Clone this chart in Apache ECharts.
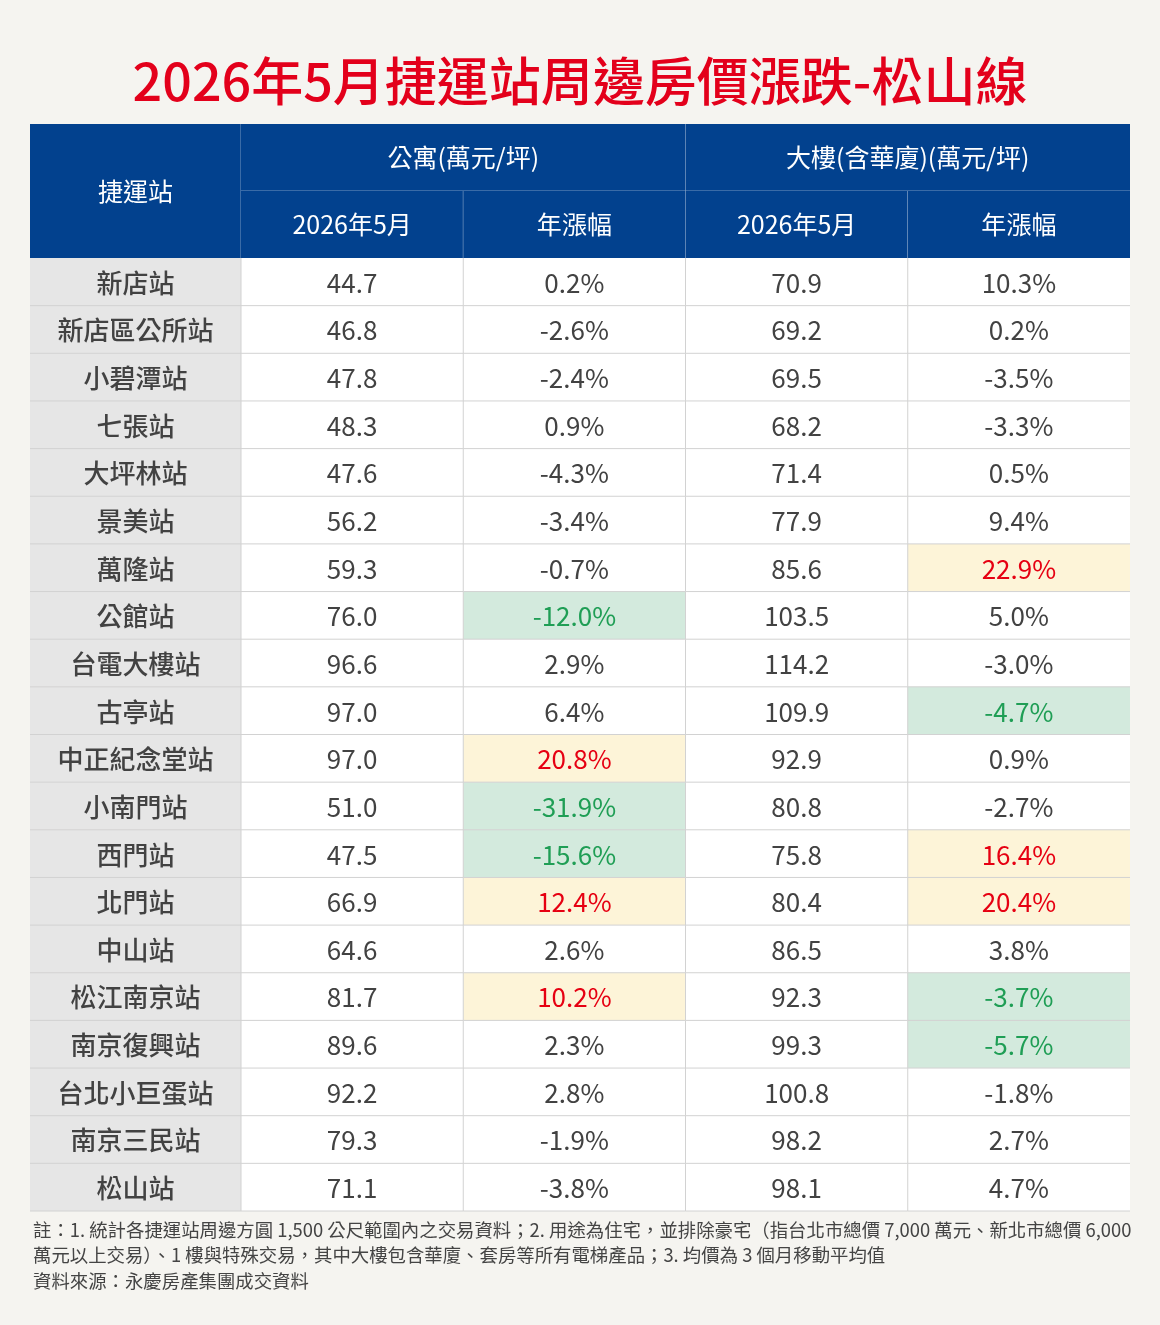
<!DOCTYPE html>
<html>
<head>
<meta charset="utf-8">
<script src="https://cdn.jsdelivr.net/npm/echarts@6/dist/echarts.min.js"></script>
<style>
  html, body { margin: 0; padding: 0; background: #f5f4f0; }
  #main { width: 1160px; height: 1325px; }
</style>
</head>
<body>
<div id="main"></div>
<script>
// table data
const stations = ['新店站', '新店區公所站', '小碧潭站', '七張站', '大坪林站', '景美站', '萬隆站', '公館站', '台電大樓站', '古亭站',
  '中正紀念堂站', '小南門站', '西門站', '北門站', '中山站', '松江南京站', '南京復興站', '台北小巨蛋站', '南京三民站', '松山站']
const aptPrice = [44.7, 46.8, 47.8, 48.3, 47.6, 56.2, 59.3, 76.0, 96.6, 97.0, 97.0, 51.0, 47.5, 66.9, 64.6, 81.7, 89.6, 92.2, 79.3, 71.1]
const aptChange = [0.2, -2.6, -2.4, 0.9, -4.3, -3.4, -0.7, -12.0, 2.9, 6.4, 20.8, -31.9, -15.6, 12.4, 2.6, 10.2, 2.3, 2.8, -1.9, -3.8]
const bldPrice = [70.9, 69.2, 69.5, 68.2, 71.4, 77.9, 85.6, 103.5, 114.2, 109.9, 92.9, 80.8, 75.8, 80.4, 86.5, 92.3, 99.3, 100.8, 98.2, 98.1]
const bldChange = [10.3, 0.2, -3.5, -3.3, 0.5, 9.4, 22.9, 5.0, -3.0, -4.7, 0.9, -2.7, 16.4, 20.4, 3.8, -3.7, -5.7, -1.8, 2.7, 4.7]
// highlighted cells: 'up' = yellow/red, 'down' = green
const aptMark = ['', '', '', '', '', '', '', 'down', '', '', 'up', 'down', 'down', 'up', '', 'up', '', '', '', '']
const bldMark = ['', '', '', '', '', '', 'up', '', '', 'down', '', '', 'up', 'up', '', 'down', 'down', '', '', '']

const valueColumns = ['aptPrice', 'aptChange', 'bldPrice', 'bldChange']
const headerRows = ['group', 'sub']
// header cells: [col, row, colspan, rowspan, text]
const stationHeader = [[0, 0, 1, 2, '捷運站']]
const valueHeader = [
  [0, 0, 2, 1, '公寓(萬元/坪)'],
  [2, 0, 2, 1, '大樓(含華廈)(萬元/坪)'],
  [0, 1, 1, 1, '2026年5月'],
  [1, 1, 1, 1, '年漲幅'],
  [2, 1, 1, 1, '2026年5月'],
  [3, 1, 1, 1, '年漲幅'],
]
const title = '2026年5月捷運站周邊房價漲跌-松山線'
const notes = [
  '註：1. 統計各捷運站周邊方圓 1,500 公尺範圍內之交易資料；2. 用途為住宅，並排除豪宅（指台北市總價 7,000 萬元、新北市總價 6,000',
  '萬元以上交易）、1 樓與特殊交易，其中大樓包含華廈、套房等所有電梯產品；3. 均價為 3 個月移動平均值',
  '資料來源：永慶房產集團成交資料',
]

const FONT = '"Noto Sans CJK TC", "Noto Sans", sans-serif'
const BLUE = '#02418e'
const TEXT = '#424242'
const LINE = '#d2d2d2'

// build body cells
const stationCells = stations.map((s, r) => ({ col: 0, row: r, text: s, mark: 'station', last: false }))
const valueCells = []
stations.forEach((s, r) => {
  valueCells.push({ col: 0, row: r, text: aptPrice[r].toFixed(1), mark: '' })
  valueCells.push({ col: 1, row: r, text: aptChange[r].toFixed(1) + '%', mark: aptMark[r] })
  valueCells.push({ col: 2, row: r, text: bldPrice[r].toFixed(1), mark: '' })
  valueCells.push({ col: 3, row: r, text: bldChange[r].toFixed(1) + '%', mark: bldMark[r], last: true })
})

function cellRect(api, col, row, cs, rs) {
  const c = api.coord([col, row])
  const sz = api.size([1, 1])
  return { x: c[0] - sz[0] / 2, y: c[1] - sz[1] / 2, width: sz[0] * cs, height: sz[1] * rs }
}

function renderBody(cells, layer) {
  return function (params, api) {
    const cell = cells[params.dataIndex]
    const r = cellRect(api, cell.col, cell.row, 1, 1)
    let fill = '#ffffff'
    let color = TEXT
    let weight = 'normal'
    if (cell.mark === 'station') { fill = '#e6e6e6'; weight = 500 }
    if (cell.mark === 'up') { fill = '#fdf4d8'; color = '#e60012' }
    if (cell.mark === 'down') { fill = '#d3eadd'; color = '#1f9e55' }
    if (layer === 'bg') {
      return { type: 'rect', shape: r, style: { fill: fill } }
    }
    const children = [
      {
        type: 'line',
        shape: { x1: r.x, y1: r.y + r.height, x2: r.x + r.width, y2: r.y + r.height },
        style: { stroke: LINE, lineWidth: 1 },
      },
      {
        type: 'text',
        style: {
          text: cell.text, x: r.x + r.width / 2, y: r.y + r.height / 2 + 1,
          align: 'center', verticalAlign: 'middle',
          fill: color, fontSize: 26, fontWeight: weight, fontFamily: FONT,
        },
      },
    ]
    if (!cell.last) {
      children.push({
        type: 'line',
        shape: { x1: r.x + r.width, y1: r.y, x2: r.x + r.width, y2: r.y + r.height },
        style: { stroke: LINE, lineWidth: 1 },
      })
    }
    return { type: 'group', children: children }
  }
}

function renderHeader(cells, nCols) {
  return function (params, api) {
    const h = cells[params.dataIndex]
    const r = cellRect(api, h[0], h[1], h[2], h[3])
    const children = [
      { type: 'rect', shape: r, style: { fill: BLUE } },
      {
        type: 'text',
        style: {
          text: h[4], x: r.x + r.width / 2, y: r.y + r.height / 2,
          align: 'center', verticalAlign: 'middle',
          fill: '#ffffff', fontSize: 25, fontWeight: 'normal', fontFamily: FONT,
        },
      },
    ]
    if (h[0] + h[2] < nCols || nCols === 1) {
      children.push({
        type: 'line',
        shape: { x1: r.x + r.width, y1: r.y, x2: r.x + r.width, y2: r.y + r.height },
        style: { stroke: 'rgba(255,255,255,0.45)', lineWidth: 1 },
      })
    }
    if (h[1] === 0 && h[3] === 1) {
      children.push({
        type: 'line',
        shape: { x1: r.x, y1: r.y + r.height, x2: r.x + r.width, y2: r.y + r.height },
        style: { stroke: 'rgba(255,255,255,0.45)', lineWidth: 1 },
      })
    }
    return { type: 'group', children: children }
  }
}

const chart = echarts.init(document.getElementById('main'), null, { renderer: 'canvas' })

const option = {
  backgroundColor: '#f5f4f0',
  animation: false,
  title: {
    text: title,
    left: 'center',
    top: 50,
    textStyle: { color: '#e3001b', fontSize: 52, fontWeight: 500, fontFamily: FONT },
  },
  grid: [
    { left: 30, width: 211, top: 124, height: 134 },
    { left: 241, width: 889, top: 124, height: 134 },
    { left: 30, width: 211, top: 258, height: 953 },
    { left: 241, width: 889, top: 258, height: 953 },
  ],
  xAxis: [
    { type: 'category', data: ['station'], gridIndex: 0, show: false },
    { type: 'category', data: valueColumns, gridIndex: 1, show: false },
    { type: 'category', data: ['station'], gridIndex: 2, show: false },
    { type: 'category', data: valueColumns, gridIndex: 3, show: false },
  ],
  yAxis: [
    { type: 'category', data: headerRows, gridIndex: 0, inverse: true, show: false },
    { type: 'category', data: headerRows, gridIndex: 1, inverse: true, show: false },
    { type: 'category', data: stations, gridIndex: 2, inverse: true, show: false },
    { type: 'category', data: stations, gridIndex: 3, inverse: true, show: false },
  ],
  series: [
    {
      type: 'custom', xAxisIndex: 0, yAxisIndex: 0, silent: true,
      renderItem: renderHeader(stationHeader, 1),
      data: stationHeader.map((h) => [h[0], h[1]]),
    },
    {
      type: 'custom', xAxisIndex: 1, yAxisIndex: 1, silent: true,
      renderItem: renderHeader(valueHeader, 4),
      data: valueHeader.map((h) => [h[0], h[1]]),
    },
    {
      type: 'custom', xAxisIndex: 2, yAxisIndex: 2, silent: true,
      renderItem: renderBody(stationCells, 'bg'),
      data: stationCells.map((c) => [c.col, c.row]),
    },
    {
      type: 'custom', xAxisIndex: 3, yAxisIndex: 3, silent: true,
      renderItem: renderBody(valueCells, 'bg'),
      data: valueCells.map((c) => [c.col, c.row]),
    },
    {
      type: 'custom', xAxisIndex: 2, yAxisIndex: 2, silent: true,
      renderItem: renderBody(stationCells, 'fg'),
      data: stationCells.map((c) => [c.col, c.row]),
    },
    {
      type: 'custom', xAxisIndex: 3, yAxisIndex: 3, silent: true,
      renderItem: renderBody(valueCells, 'fg'),
      data: valueCells.map((c) => [c.col, c.row]),
    },
  ],
  graphic: [
    {
      type: 'text',
      left: 33,
      top: 1217,
      style: {
        text: notes.join('\n'),
        fill: '#444444',
        fontSize: 18.4,
        lineHeight: 25.5,
        fontFamily: FONT,
      },
    },
  ],
}

chart.setOption(option)
</script>
</body>
</html>
